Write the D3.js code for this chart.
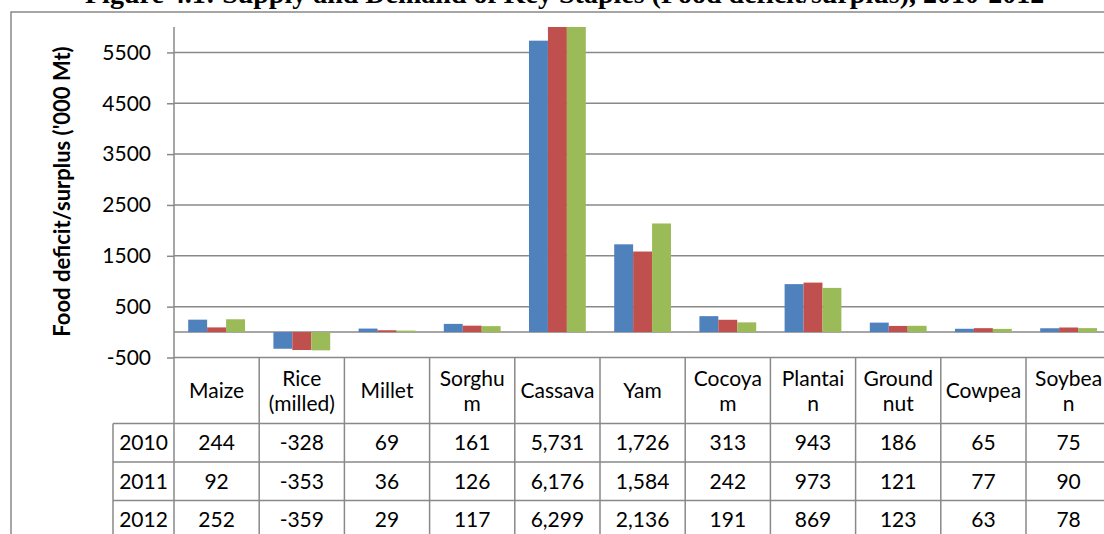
<!DOCTYPE html>
<html>
<head>
<meta charset="utf-8">
<script src="https://cdn.jsdelivr.net/npm/d3@7"></script>
<style>
  html, body { margin: 0; padding: 0; background: #fff; overflow: hidden; }
  svg { display: block; }
  text { font-family: Lato, "Open Sans", sans-serif; fill: #000; }
</style>
</head>
<body>
<svg id="chart" width="1104" height="534"></svg>
<script>
// Staple crops, in column order
const categories = ["Maize", "Rice (milled)", "Millet", "Sorghum", "Cassava", "Yam",
  "Cocoyam", "Plantain", "Groundnut", "Cowpea", "Soybean"];
// Column header text as it wraps inside the data table
const headerLabels = [["Maize"], ["Rice", "(milled)"], ["Millet"], ["Sorghu", "m"],
  ["Cassava"], ["Yam"], ["Cocoya", "m"], ["Plantai", "n"], ["Ground", "nut"],
  ["Cowpea"], ["Soybea", "n"]];
const years = ["2010", "2011", "2012"];
// Food deficit (-) / surplus (+), '000 Mt
const values2010 = [244, -328, 69, 161, 5731, 1726, 313, 943, 186, 65, 75];
const values2011 = [92, -353, 36, 126, 6176, 1584, 242, 973, 121, 77, 90];
const values2012 = [252, -359, 29, 117, 6299, 2136, 191, 869, 123, 63, 78];
const yTicks = [-500, 500, 1500, 2500, 3500, 4500, 5500];
const yTitle = "Food deficit/surplus ('000 Mt)";
const chartTitle = "Figure 4.1: Supply and Demand of Key Staples (Food deficit/surplus), 2010-2012";

const series = [values2010, values2011, values2012];
const colors = ["#4F81BD", "#C0504D", "#9BBB59"];
const gridColor = "#898989";

// plain hyphen for negatives, comma thousands
const locale = d3.formatLocale({ decimal: ".", thousands: ",", grouping: [3], currency: ["", ""], minus: "-" });
const fmtComma = locale.format(",");
const fmtPlain = locale.format("d");

const svg = d3.select("#chart");

// plot geometry
const plotLeft = 174, colW = 85.2;
const plotRight = plotLeft + colW * categories.length;
const plotTop = 27;
const y = d3.scaleLinear().domain([-500, 6000]).range([357.5, plotTop]);
const x = d3.scaleBand().domain(categories).range([plotLeft, plotRight]);
const xs = d3.scaleBand().domain(years).range([0, x.bandwidth()])
  .paddingInner(0).paddingOuter(0.75);

// title (runs off the top edge)
svg.append("text")
  .attr("x", 85).attr("y", 2.5)
  .style("font-family", "'Liberation Serif', 'Times New Roman', serif")
  .style("font-weight", "bold").style("font-size", "28px")
  .text(chartTitle);

// outer chart frame
svg.append("rect")
  .attr("x", 11).attr("y", 12).attr("width", 1200).attr("height", 600)
  .attr("fill", "none").attr("stroke", gridColor).attr("stroke-width", 1.5);

// y axis with gridlines
const yAxis = d3.axisLeft(y).tickValues(yTicks).tickSize(7).tickPadding(16)
  .tickFormat(fmtPlain);
const gy = svg.append("g").attr("transform", `translate(${plotLeft},0)`).call(yAxis);
gy.select(".domain").remove();
gy.selectAll(".tick line").attr("stroke", gridColor).attr("stroke-width", 1.5);
gy.selectAll(".tick text").style("font-size", "21px").style("font-family", "Lato, sans-serif");

svg.append("g").selectAll("line").data(yTicks.concat([0])).join("line")
  .attr("x1", plotLeft).attr("x2", plotRight)
  .attr("y1", d => y(d)).attr("y2", d => y(d))
  .attr("stroke", gridColor).attr("stroke-width", 1.5);

// bars, clipped to the plot area
svg.append("clipPath").attr("id", "plotClip").append("rect")
  .attr("x", plotLeft).attr("y", plotTop)
  .attr("width", plotRight - plotLeft).attr("height", y(-500) - plotTop);

const bars = svg.append("g").attr("clip-path", "url(#plotClip)");
series.forEach((vals, si) => {
  bars.append("g").selectAll("rect").data(vals).join("rect")
    .attr("x", (d, i) => x(categories[i]) + xs(years[si]))
    .attr("width", xs.bandwidth())
    .attr("y", d => y(Math.max(0, d)))
    .attr("height", d => Math.abs(y(d) - y(0)))
    .attr("fill", colors[si]);
});

// value axis line
svg.append("line")
  .attr("x1", plotLeft).attr("x2", plotLeft)
  .attr("y1", plotTop).attr("y2", 540)
  .attr("stroke", gridColor).attr("stroke-width", 1.5);

// data table
const tableTop = y(-500), headerH = 66, rowH = 38.5, legendLeft = 113;
const rowTops = years.map((_, i) => tableTop + headerH + i * rowH);
const table = svg.append("g");

// vertical cell borders
table.selectAll("line.col").data(categories).join("line")
  .attr("class", "col")
  .attr("x1", d => x(d) + x.bandwidth()).attr("x2", d => x(d) + x.bandwidth())
  .attr("y1", tableTop).attr("y2", 540)
  .attr("stroke", gridColor).attr("stroke-width", 1.5);
table.append("line")
  .attr("x1", legendLeft).attr("x2", legendLeft)
  .attr("y1", rowTops[0]).attr("y2", 540)
  .attr("stroke", gridColor).attr("stroke-width", 1.5);
// horizontal row borders
table.selectAll("line.row").data(rowTops).join("line")
  .attr("class", "row")
  .attr("x1", legendLeft).attr("x2", plotRight)
  .attr("y1", d => d).attr("y2", d => d)
  .attr("stroke", gridColor).attr("stroke-width", 1.5);

// column headers
const headers = table.selectAll("text.head").data(headerLabels).join("text")
  .attr("class", "head")
  .attr("text-anchor", "middle")
  .style("font-size", "21px")
  .attr("x", (d, i) => x(categories[i]) + x.bandwidth() / 2)
  .attr("y", d => tableTop + headerH / 2 - (d.length - 1) * 12.5);
headers.selectAll("tspan").data(d => d).join("tspan")
  .attr("x", function () { return d3.select(this.parentNode).attr("x"); })
  .attr("dy", (d, i) => i === 0 ? "0.36em" : 25)
  .text(d => d);

// year labels and values
years.forEach((yr, ri) => {
  const cy = rowTops[ri] + rowH / 2;
  table.append("text")
    .attr("x", (legendLeft + plotLeft) / 2).attr("y", cy).attr("dy", "0.36em")
    .attr("text-anchor", "middle").style("font-size", "21px")
    .text(yr);
  table.append("g").selectAll("text").data(series[ri]).join("text")
    .attr("x", (d, i) => x(categories[i]) + x.bandwidth() / 2)
    .attr("y", cy).attr("dy", "0.36em")
    .attr("text-anchor", "middle").style("font-size", "21px")
    .text(d => fmtComma(d));
});

// y axis title
svg.append("text")
  .attr("transform", `translate(70,${(45 + 338) / 2}) rotate(-90)`)
  .attr("text-anchor", "middle")
  .style("font-weight", "bold").style("font-size", "22px")
  .text(yTitle);
</script>
</body>
</html>
